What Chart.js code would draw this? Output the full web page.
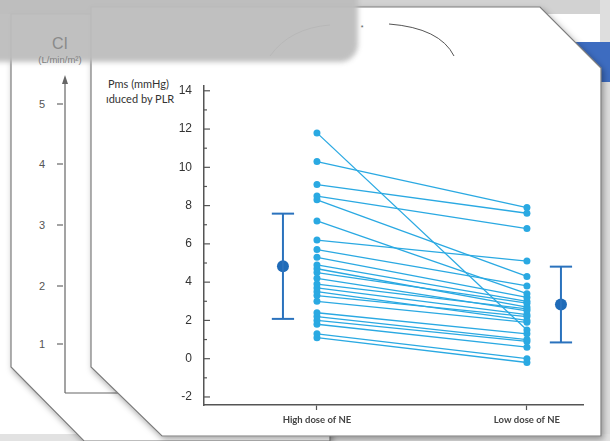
<!DOCTYPE html>
<html lang="en">
<head>
    <meta charset="UTF-8">
    <title>Pms - high vs low dose of NE</title>
    <script src="https://cdn.jsdelivr.net/npm/chart.js"></script>
    <style>
        html, body {
            margin: 0;
            padding: 0;
            width: 610px;
            height: 441px;
            overflow: hidden;
            background-color: #ffffff;
        }
        .layer {
            position: absolute;
            left: 0;
            top: 0;
        }
    </style>
</head>
<body>
    <!-- slide pages behind the chart -->
    <svg class="layer" width="610" height="441" xmlns="http://www.w3.org/2000/svg">
        <defs>
            <filter id="shadow" x="-10%" y="-10%" width="130%" height="130%">
                <feDropShadow dx="2" dy="3" stdDeviation="3" flood-color="#000" flood-opacity="0.35"/>
            </filter>
            <filter id="soft" x="-10%" y="-30%" width="130%" height="160%">
                <feGaussianBlur stdDeviation="2.5"/>
            </filter>
        </defs>
        <rect width="610" height="441" fill="#ffffff"/>
        <rect width="610" height="14" fill="#d2d2d2"/>
        <rect x="600" y="0" width="10" height="441" fill="#dedede"/>
        <rect x="0" y="434" width="610" height="7" fill="#e2e2e2"/>
        <!-- blue slide behind -->
        <rect x="555" y="42" width="60" height="40" fill="#3d6cc0"/>

        <!-- back page with CI axis -->
        <polygon points="11,14 330,14 330,441 84,441 11,367" fill="#ffffff" stroke="#7c7c7c" stroke-width="1.2" filter="url(#shadow)"/>
        <line x1="65" y1="78" x2="65" y2="393" stroke="#666" stroke-width="1.2"/>
        <polygon points="62,84 65,75 68,84" fill="#666"/>
        <line x1="65" y1="393" x2="120" y2="393" stroke="#666" stroke-width="1.2"/>
        <g stroke="#666" stroke-width="1.2">
            <line x1="57" y1="104" x2="63" y2="104"/>
            <line x1="57" y1="164" x2="63" y2="164"/>
            <line x1="57" y1="225" x2="63" y2="225"/>
            <line x1="57" y1="286" x2="63" y2="286"/>
            <line x1="57" y1="344" x2="63" y2="344"/>
        </g>
        <g font-family="Liberation Sans, Arial, sans-serif" font-size="11" fill="#555" text-anchor="end">
            <text x="45" y="108">5</text>
            <text x="45" y="168">4</text>
            <text x="45" y="229">3</text>
            <text x="45" y="290">2</text>
            <text x="45" y="348">1</text>
        </g>

        <!-- front page -->
        <polygon points="91,7 540,7 601,68 601,436 162,436 91,367" fill="#ffffff" stroke="#7c7c7c" stroke-width="1.2" filter="url(#shadow)"/>
        <path d="M270,56 Q290,28 330,25" fill="none" stroke="#555" stroke-width="1"/>
        <path d="M389,24 Q440,28 454,56" fill="none" stroke="#555" stroke-width="1"/>
        <text x="362" y="30" font-family="Liberation Sans, Arial, sans-serif" font-size="7" fill="#555" text-anchor="middle">*</text>
        <g font-family="Lato, 'Open Sans', sans-serif" font-size="11" fill="#333">
            <text x="108" y="88">Pms (mmHg)</text>
            <text x="106" y="103">ıduced by PLR</text>
        </g>

        <!-- grey blur over the top left -->
        <rect x="-30" y="-30" width="388" height="92" rx="18" fill="#bdbdbd" opacity="0.95" filter="url(#soft)"/>
        <text x="60" y="49" font-family="Liberation Sans, Arial, sans-serif" font-size="16" fill="#8a8a8a" text-anchor="middle">CI</text>
        <text x="60" y="63" font-family="Liberation Sans, Arial, sans-serif" font-size="9.5" fill="#7e7e7e" text-anchor="middle">(L/min/m²)</text>
    </svg>

    <canvas id="pmsChart" class="layer" width="610" height="441"></canvas>

    <script>
        // categories on the x axis
        const categories = ['High dose of NE', 'Low dose of NE'];

        // individual patients, same order in both arrays
        const highDose = [11.8, 10.3, 9.1, 8.5, 8.3, 7.2, 6.2, 5.7, 5.3, 4.9, 4.7, 4.5,
                          4.2, 3.9, 3.7, 3.5, 3.3, 3.0, 2.4, 2.2, 2.0, 1.8, 1.3, 1.1];
        const lowDose  = [1.5, 7.9, 7.6, 6.8, 4.3, 3.4, 5.1, 3.8, 3.2, 3.0, 2.7, 2.9,
                          2.5, 2.6, 2.3, 2.0, 2.2, 1.9, 1.3, 1.0, 0.9, 0.6, 0.0, -0.2];

        // mean and SD for each group
        const groupMean = [4.83, 2.83];
        const groupSD = [2.75, 1.98];

        const yTicks = [-2, 0, 2, 4, 6, 8, 10, 12, 14];

        const lineBlue = '#2aa9e2';
        const meanBlue = '#2a72bd';

        const datasets = [];

        // paired lines, one per patient
        highDose.forEach((v, i) => {
            datasets.push({
                data: [{ x: 1, y: v }, { x: 2, y: lowDose[i] }],
                showLine: true,
                borderColor: lineBlue,
                borderWidth: 1.3,
                pointRadius: 3.5,
                pointBackgroundColor: lineBlue,
                pointBorderWidth: 0
            });
        });

        // mean +/- SD, drawn beside each column
        const meanOffset = [-0.162, 0.162];
        const capHalf = 0.053;
        groupMean.forEach((m, g) => {
            const cx = g + 1 + meanOffset[g];
            const lo = m - groupSD[g];
            const hi = m + groupSD[g];
            const bar = { showLine: true, borderColor: meanBlue, borderWidth: 2, pointRadius: 0 };
            datasets.push(Object.assign({ data: [{ x: cx, y: lo }, { x: cx, y: hi }] }, bar));
            datasets.push(Object.assign({ data: [{ x: cx - capHalf, y: hi }, { x: cx + capHalf, y: hi }] }, bar));
            datasets.push(Object.assign({ data: [{ x: cx - capHalf, y: lo }, { x: cx + capHalf, y: lo }] }, bar));
            datasets.push({
                data: [{ x: cx, y: m }],
                pointRadius: 6,
                pointBackgroundColor: '#1f6bb8',
                pointBorderWidth: 0
            });
        });

        // y ticks pointing into the plot, minor ones halfway
        const innerTicks = {
            id: 'innerTicks',
            afterDraw(chart) {
                const y = chart.scales.y;
                const ctx = chart.ctx;
                const left = chart.chartArea.left;
                ctx.save();
                ctx.strokeStyle = '#555';
                ctx.lineWidth = 1.2;
                yTicks.forEach((v, i) => {
                    const p = y.getPixelForValue(v);
                    ctx.beginPath();
                    ctx.moveTo(left, p);
                    ctx.lineTo(left + 6, p);
                    ctx.stroke();
                    if (i < yTicks.length - 1) {
                        const q = y.getPixelForValue((v + yTicks[i + 1]) / 2);
                        ctx.beginPath();
                        ctx.moveTo(left, q);
                        ctx.lineTo(left + 3, q);
                        ctx.stroke();
                    }
                });
                ctx.restore();
            }
        };

        new Chart(document.getElementById('pmsChart'), {
            type: 'scatter',
            data: { datasets: datasets },
            options: {
                responsive: false,
                animation: false,
                layout: { padding: { left: 164, right: 27, top: 86, bottom: 0 } },
                plugins: {
                    legend: { display: false },
                    tooltip: { enabled: false }
                },
                scales: {
                    x: {
                        type: 'linear',
                        min: 0.462,
                        max: 2.267,
                        afterBuildTicks: (scale) => {
                            scale.ticks = categories.map((c, i) => ({ value: i + 1 }));
                        },
                        afterFit: (scale) => { scale.height = 36; },
                        ticks: {
                            callback: (v) => categories[v - 1],
                            color: '#444',
                            font: { family: 'Lato, sans-serif', size: 9.5, weight: 'bold' },
                            padding: 4,
                            maxRotation: 0
                        },
                        grid: { drawOnChartArea: false, tickLength: 5, color: '#555', tickWidth: 1.2 },
                        border: { color: '#555', width: 1.5 }
                    },
                    y: {
                        min: -2.42,
                        max: 14.25,
                        afterBuildTicks: (scale) => {
                            scale.ticks = yTicks.map(v => ({ value: v }));
                        },
                        afterFit: (scale) => { scale.width = 40; },
                        ticks: {
                            color: '#333',
                            font: { family: 'Liberation Sans, Arial, sans-serif', size: 12 },
                            padding: 4
                        },
                        grid: { display: false },
                        border: { color: '#555', width: 1.5 }
                    }
                }
            },
            plugins: [innerTicks]
        });
    </script>
</body>
</html>
